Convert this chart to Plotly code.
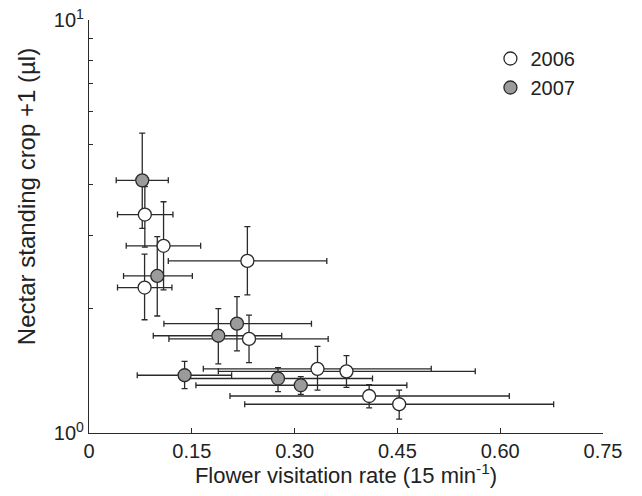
import plotly.graph_objects as go

# 2006 (open circles)
x06 = [0.0815, 0.1088, 0.0811, 0.2311, 0.2335, 0.3334, 0.3757, 0.4088, 0.4526]
y06 = [3.38, 2.84, 2.25, 2.61, 1.69, 1.43, 1.41, 1.229, 1.174]
x06_lo = [0.0416, 0.0543, 0.0416, 0.1157, 0.1166, 0.1668, 0.1887, 0.2057, 0.2272]
x06_hi = [0.1225, 0.1629, 0.1210, 0.3470, 0.3490, 0.4994, 0.5636, 0.6133, 0.6780]
y06_lo = [2.82, 2.22, 1.88, 2.16, 1.48, 1.27, 1.29, 1.15, 1.08]
y06_hi = [3.95, 3.63, 2.71, 3.16, 1.93, 1.62, 1.54, 1.31, 1.27]

# 2007 (grey circles)
x07 = [0.0777, 0.0996, 0.2159, 0.1887, 0.1395, 0.2758, 0.3090]
y07 = [4.09, 2.40, 1.84, 1.72, 1.38, 1.355, 1.305]
x07_lo = [0.0397, 0.0504, 0.1093, 0.0938, 0.0704, 0.1380, 0.1560]
x07_hi = [0.1157, 0.1508, 0.3246, 0.2812, 0.2081, 0.4137, 0.4638]
y07_lo = [3.13, 1.92, 1.58, 1.47, 1.28, 1.26, 1.24]
y07_hi = [5.32, 2.99, 2.14, 2.00, 1.49, 1.44, 1.37]

INK = "#2a2a2a"
FONT = "Liberation Sans, Arial, sans-serif"


def err(vals, lo, hi):
    plus = [h - v for v, h in zip(vals, hi)]
    minus = [v - l for v, l in zip(vals, lo)]
    return plus, minus


fig = go.Figure()

# error bars first, so every marker sits on top of them
for xs, ys, xl, xh, yl, yh in [
    (x06, y06, x06_lo, x06_hi, y06_lo, y06_hi),
    (x07, y07, x07_lo, x07_hi, y07_lo, y07_hi),
]:
    xp, xm = err(xs, xl, xh)
    yp, ym = err(ys, yl, yh)
    fig.add_trace(
        go.Scatter(
            x=xs,
            y=ys,
            mode="markers",
            marker=dict(size=12, color="rgba(0,0,0,0)", line=dict(width=0)),
            error_x=dict(type="data", array=xp, arrayminus=xm, color=INK, thickness=1.3, width=3),
            error_y=dict(type="data", array=yp, arrayminus=ym, color=INK, thickness=1.3, width=3),
            showlegend=False,
            hoverinfo="skip",
        )
    )

fig.add_trace(
    go.Scatter(
        x=x06, y=y06, mode="markers", name="2006",
        marker=dict(size=13, color="white", line=dict(color=INK, width=1.3)),
    )
)
fig.add_trace(
    go.Scatter(
        x=x07, y=y07, mode="markers", name="2007",
        marker=dict(size=13, color="#9b9b9b", line=dict(color=INK, width=1.3)),
    )
)

fig.update_xaxes(
    range=[0, 0.75],
    tickvals=[0, 0.15, 0.30, 0.45, 0.60, 0.75],
    ticktext=["0", "0.15", "0.30", "0.45", "0.60", "0.75"],
    ticks="inside", ticklen=5, tickwidth=1.2, tickcolor=INK,
    showline=True, linecolor=INK, linewidth=1.3,
    showgrid=False, zeroline=False, automargin=False,
    ticklabeloverflow="allow",
    tickfont=dict(size=20, color="#222"),
    title=dict(text="Flower visitation rate (15 min<sup>-1</sup>)", font=dict(size=22, color="#222"), standoff=8),
)
fig.update_yaxes(
    type="log",
    range=[0, 1],
    tickvals=[1, 10],
    ticktext=["10<sup>0</sup>", "10<sup>1</sup>"],
    ticks="inside", ticklen=6, tickwidth=1.2, tickcolor=INK,
    minor=dict(tickvals=[2, 3, 4, 5, 6, 7, 8, 9], ticks="inside", ticklen=4, tickcolor=INK),
    showline=True, linecolor=INK, linewidth=1.3,
    showgrid=False, zeroline=False, automargin=False,
    ticklabeloverflow="allow",
    tickfont=dict(size=20, color="#222"),
)

fig.add_annotation(
    text="Nectar standing crop +1 (µl)",
    xref="paper", yref="paper", x=-0.152, y=0.572,
    textangle=-90, showarrow=False,
    font=dict(size=24, color="#222", family=FONT),
)

# page body keeps an 8px margin, so the figure is sized to fit inside it
fig.update_layout(
    width=626,
    height=480,
    margin=dict(l=81, r=31, t=12, b=55),
    plot_bgcolor="white",
    paper_bgcolor="white",
    font=dict(family=FONT, color="#222"),
    legend=dict(
        x=0.781, y=0.954, xanchor="left", yanchor="top",
        font=dict(size=20), bgcolor="rgba(0,0,0,0)", itemwidth=30,
    ),
)

fig.write_html("out.html")
